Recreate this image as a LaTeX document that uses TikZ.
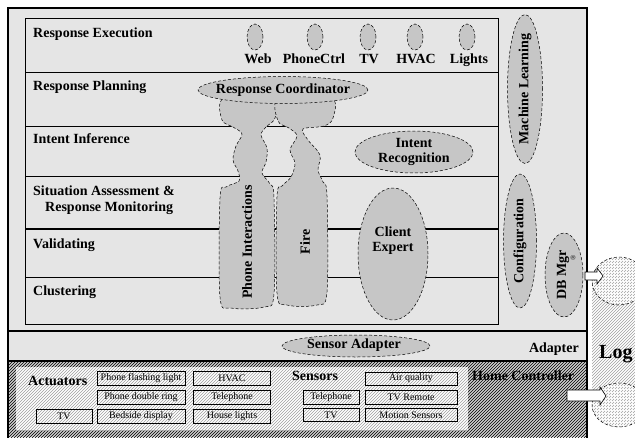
\documentclass[tikz,border=0pt]{standalone}
\usepackage{fontspec}
\setmainfont{Liberation Serif}
\usetikzlibrary{shapes.geometric,patterns}
\begin{document}
\begin{tikzpicture}[x=1pt,y=-1pt,
  lbl/.style={font=\fontsize{14}{15}\selectfont\bfseries, inner sep=0pt},
  sml/.style={font=\fontsize{10}{11}\selectfont, inner sep=0pt},
  ell/.style={ellipse, draw, densely dashed, line width=0.5pt, fill=gray!45, inner sep=0pt},
  blob/.style={draw, densely dashed, line width=0.5pt, fill=gray!45},
  sbox/.style={draw, line width=0.5pt, inner sep=0pt, minimum height=14pt},
  frame/.style={draw, line width=2.5pt},
  layer/.style={line width=0.5pt},
  block/.style={draw, fill=white, line width=0.6pt}
]
\useasboundingbox (0,0) rectangle (635,437);
\fill[white] (0,0) rectangle (635,437);

% ---------- top box ----------
\fill[gray!20] (8,8) rectangle (587,331);
\draw[layer] (25,18) rectangle (498,324);
\draw[layer] (25,72) -- (498,72);
\draw[layer] (25,126) -- (498,126);
\draw[layer] (25,176) -- (498,176);
\draw[line width=1.3pt] (25,229) -- (498,229);
\draw[layer] (25,277) -- (498,277);

% blobs
\draw[blob] plot[smooth cycle, tension=0.55] coordinates {(224,98) (273,98) (275,118) (266,127) (261,135) (267,148) (266,162) (262,173) (270,184) (274,198) (274,294) (264,307) (231,308) (220,297) (220,198) (226,187) (239,181) (238,171) (233,160) (236,146) (242,134) (233,127) (222,120)};
\draw[blob] plot[smooth cycle, tension=0.55] coordinates {(279,98) (331,98) (333,118) (324,126) (303,129) (308,140) (320,155) (318,170) (323,182) (327,196) (327,292) (317,305) (287,305) (277,293) (277,197) (282,186) (291,177) (295,163) (290,150) (297,136) (289,128) (278,121)};
\node[lbl, rotate=90] (tpi) at (247,242) {Phone Interactions};
\node[lbl, rotate=90] (tfire) at (305,242) {Fire};

% top row ellipses
\node[ell, minimum width=16pt, minimum height=26pt] (eweb) at (255,37) {};
\node[ell, minimum width=16pt, minimum height=26pt] (ephone) at (315,37) {};
\node[ell, minimum width=16pt, minimum height=26pt] (etv) at (368,37) {};
\node[ell, minimum width=16pt, minimum height=26pt] (ehvac) at (415,37) {};
\node[ell, minimum width=16pt, minimum height=26pt] (elights) at (467,37) {};
\node[lbl, anchor=base] (tweb) at (258,63) {Web};
\node[lbl, anchor=base] (tphone) at (314,63) {PhoneCtrl};
\node[lbl, anchor=base] (ttv) at (369,63) {TV};
\node[lbl, anchor=base] (thvac) at (416,63) {HVAC};
\node[lbl, anchor=base] (tlights) at (469,63) {Lights};

% response coordinator
\node[ell, minimum width=170pt, minimum height=27pt] (rc) at (283,90) {};
\node[lbl] (trc) at (rc) {Response Coordinator};

% intent recognition
\node[ell, minimum width=118pt, minimum height=42pt] (ir) at (414,152) {};
\node[lbl, align=center] (tir) at (414,152) {Intent\\Recognition};

% client expert
\node[ell, minimum width=70pt, minimum height=132pt] (ce) at (393,254) {};
\node[lbl, align=center] (tce) at (393,241) {Client\\Expert};

% right column
\node[ell, minimum width=35pt, minimum height=149pt] (ml) at (525,89) {};
\node[lbl, rotate=90] (tml) at (ml) {Machine Learning};
\node[ell, minimum width=33pt, minimum height=134pt] (cf) at (520,241) {};
\node[lbl, rotate=90] (tcf) at (cf) {Configuration};
\node[ell, minimum width=38pt, minimum height=84pt] (db) at (564,275) {};
\node[lbl, rotate=90] (tdb) at (563,275) {DB Mgr};
\node[inner sep=0pt, font=\fontsize{7}{7}\selectfont, rotate=90] (treg) at (573,258) {®};

% layer labels
\node[lbl, anchor=base west] (l1) at (33,37) {Response Execution};
\node[lbl, anchor=base west] (l2) at (33,90) {Response Planning};
\node[lbl, anchor=base west] (l3) at (33,143) {Intent Inference};
\node[lbl, anchor=base west] (l4a) at (33,195) {Situation Assessment \&};
\node[lbl, anchor=base west] (l4b) at (45,211) {Response Monitoring};
\node[lbl, anchor=base west] (l5) at (33,248) {Validating};
\node[lbl, anchor=base west] (l6) at (33,295) {Clustering};

\draw[frame] (8,8) rectangle (587,331);

% ---------- adapter strip ----------
\fill[gray!20] (8,331) rectangle (587,361);
\node[ell, minimum width=148pt, minimum height=22pt] (sa) at (356,346) {};
\node[lbl] (tsa) at (354,345) {Sensor Adapter};
\node[lbl, anchor=base east] (tad) at (579,352) {Adapter};
\draw[frame] (8,331) rectangle (587,361);

% ---------- home controller ----------
\fill[gray!40] (8,361) rectangle (587,437);
\fill[pattern=north east lines, pattern color=black] (8,361) rectangle (587,437);
\fill[white] (16,367) rectangle (468,430);
\fill[pattern=north east lines, pattern color=gray!75] (16,367) rectangle (468,430);
\node[lbl, anchor=base west] (tact) at (28,385) {Actuators};
\node[lbl, anchor=base west] (tsen) at (292,380) {Sensors};
\node[lbl, anchor=base west] (thc) at (472,380) {Home Controller};

\node[sbox, sml, minimum width=88pt] (a1) at (141,378) {Phone flashing light};
\node[sbox, sml, minimum width=77pt] (a2) at (232,378) {HVAC};
\node[sbox, sml, minimum width=88pt] (a3) at (141,397) {Phone double ring};
\node[sbox, sml, minimum width=77pt] (a4) at (232,397) {Telephone};
\node[sbox, sml, minimum width=56pt] (a5) at (64,416) {TV};
\node[sbox, sml, minimum width=88pt] (a6) at (141,416) {Bedside display};
\node[sbox, sml, minimum width=77pt] (a7) at (232,416) {House lights};

\node[sbox, sml, minimum width=92pt, minimum height=13pt] (s1) at (411,378.5) {Air quality};
\node[sbox, sml, minimum width=56pt] (s2) at (331,397) {Telephone};
\node[sbox, sml, minimum width=92pt] (s3) at (411,397) {TV Remote};
\node[sbox, sml, minimum width=56pt, minimum height=13pt] (s4) at (331,415) {TV};
\node[sbox, sml, minimum width=92pt, minimum height=13pt] (s5) at (411,415) {Motion Sensors};

\draw[frame] (8,361) -- (8,440) (587,361) -- (587,440) (8,361) -- (587,361);

% ---------- log ----------
\fill[white] (592,281) rectangle (646,405);
\fill[pattern=north east lines, pattern color=gray!75] (592,281) rectangle (646,405);
\fill[white] (619,281) ellipse [x radius=27, y radius=24];
\draw[densely dashed, line width=0.5pt, pattern=north east lines, pattern color=gray!75] (619,281) ellipse [x radius=27, y radius=24];
\fill[white] (619,405) ellipse [x radius=27, y radius=22];
\draw[densely dashed, line width=0.5pt, pattern=north east lines, pattern color=gray!75] (619,405) ellipse [x radius=27, y radius=22];
\node[font=\fontsize{20}{22}\selectfont\bfseries, anchor=base west, inner sep=0pt] (tlog) at (599,358) {Log};

% block arrows
\draw[block] (585,272) -- (597,272) -- (597,268) -- (603,276) -- (597,284) -- (597,280) -- (585,280) -- cycle;
\draw[block] (567,390) -- (600,390) -- (600,387) -- (606,396) -- (600,405) -- (600,401) -- (567,401) -- cycle;
\end{tikzpicture}
\end{document}
